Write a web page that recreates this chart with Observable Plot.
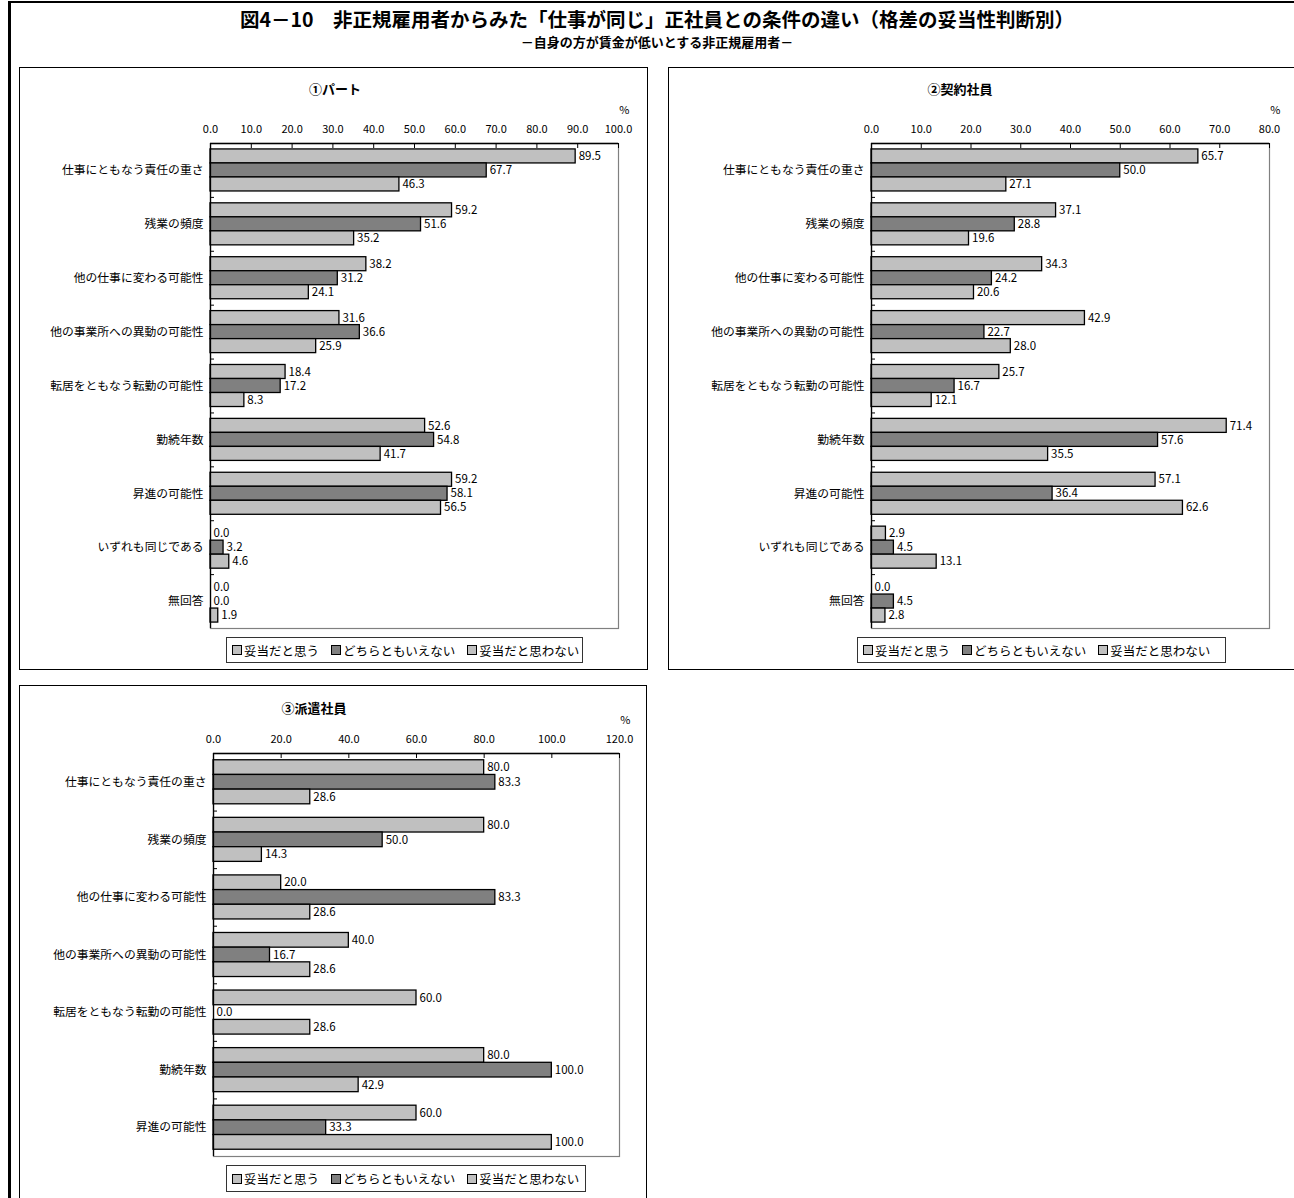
<!DOCTYPE html>
<html>
<head>
<meta charset="utf-8">
<script src="https://cdn.jsdelivr.net/npm/d3@7"></script>
<script src="https://cdn.jsdelivr.net/npm/@observablehq/plot@0.6"></script>
<style>
  body { margin: 0; background: #fff; font-family: "Noto Sans CJK JP", "Noto Sans", sans-serif; color: #000; }
  #page { position: relative; width: 1294px; height: 1198px; overflow: hidden; background: #fff; }
  .outer { position: absolute; left: 8px; top: 1px; width: 1400px; height: 1400px; border-left: 3px solid #000; border-top: 2px solid #000; box-sizing: border-box; }
  .panel { position: absolute; border: 1.5px solid #000; box-sizing: border-box; background: #fff; }
  .title { position: absolute; left: 0; width: 1314px; text-align: center; font-weight: bold; white-space: nowrap; }
  .ptitle { position: absolute; font-weight: bold; font-size: 13px; white-space: nowrap; transform: translate(-50%, -50%); }
  .legend { position: absolute; border: 1px solid #333; box-sizing: border-box; display: flex; align-items: center; padding-left: 5px; gap: 12px; font-size: 12.5px; white-space: nowrap; background: #fff; }
  .legend .item { display: flex; align-items: center; }
  .legend .sw { display: inline-block; width: 8px; height: 8px; border: 1px solid #000; margin-right: 2px; }
  .chart { position: absolute; }
</style>
</head>
<body>
<div id="page">
  <div class="outer"></div>
  <div class="title" style="top:6px;font-size:19.5px;line-height:26px;">図4－10　非正規雇用者からみた「仕事が同じ」正社員との条件の違い（格差の妥当性判断別）</div>
  <div class="title" style="top:33px;font-size:13px;line-height:18px;">－自身の方が賃金が低いとする非正規雇用者－</div>

  <div class="panel" style="left:19px;top:67px;width:629px;height:603px;"></div>
  <div class="panel" style="left:668px;top:67px;width:700px;height:603px;"></div>
  <div class="panel" style="left:19px;top:685px;width:628px;height:530px;"></div>

  <div class="ptitle" style="left:335px;top:88px;">①パート</div>
  <div class="ptitle" style="left:960px;top:88px;">②契約社員</div>
  <div class="ptitle" style="left:314px;top:707px;">③派遣社員</div>

  <div id="c1" class="chart" style="left:20px;top:68px;"></div>
  <div id="c2" class="chart" style="left:669px;top:68px;"></div>
  <div id="c3" class="chart" style="left:20px;top:686px;"></div>

  <div id="l1" class="legend" style="left:226px;top:637px;width:357px;height:26px;"></div>
  <div id="l2" class="legend" style="left:857px;top:637px;width:369px;height:26px;"></div>
  <div id="l3" class="legend" style="left:226px;top:1165px;width:360px;height:27px;"></div>
</div>
<script>
// ---- data ----
const series = ["妥当だと思う", "どちらともいえない", "妥当だと思わない"];
const seriesColors = ["#c0c0c0", "#808080", "#c0c0c0"];

const categories9 = [
  "仕事にともなう責任の重さ", "残業の頻度", "他の仕事に変わる可能性",
  "他の事業所への異動の可能性", "転居をともなう転勤の可能性", "勤続年数",
  "昇進の可能性", "いずれも同じである", "無回答"
];
const categories7 = categories9.slice(0, 7);

// ①パート
const partAgree    = [89.5, 59.2, 38.2, 31.6, 18.4, 52.6, 59.2, 0.0, 0.0];
const partNeutral  = [67.7, 51.6, 31.2, 36.6, 17.2, 54.8, 58.1, 3.2, 0.0];
const partDisagree = [46.3, 35.2, 24.1, 25.9, 8.3, 41.7, 56.5, 4.6, 1.9];

// ②契約社員
const contractAgree    = [65.7, 37.1, 34.3, 42.9, 25.7, 71.4, 57.1, 2.9, 0.0];
const contractNeutral  = [50.0, 28.8, 24.2, 22.7, 16.7, 57.6, 36.4, 4.5, 4.5];
const contractDisagree = [27.1, 19.6, 20.6, 28.0, 12.1, 35.5, 62.6, 13.1, 2.8];

// ③派遣社員
const dispatchAgree    = [80.0, 80.0, 20.0, 40.0, 60.0, 80.0, 60.0];
const dispatchNeutral  = [83.3, 50.0, 83.3, 16.7, 0.0, 100.0, 33.3];
const dispatchDisagree = [28.6, 14.3, 28.6, 28.6, 28.6, 42.9, 100.0];

const ticksPart = [0, 10, 20, 30, 40, 50, 60, 70, 80, 90, 100];
const ticksContract = [0, 10, 20, 30, 40, 50, 60, 70, 80];
const ticksDispatch = [0, 20, 40, 60, 80, 100, 120];

// ---- chart builder ----
function chart({cats, vals, ticks, width, height, ml, mr, mt, mb, barFrac}) {
  const innerH = height - mt - mb;
  const innerW = width - ml - mr;
  const step = innerH / cats.length;
  const h = step * barFrac;
  const m = (step - 3 * h) / 2;
  const rows = [];
  cats.forEach((c, i) => series.forEach((s, k) => rows.push({cat: c, k, series: s, value: vals[k][i]})));
  const xMax = ticks[ticks.length - 1];
  const marks = [
    Plot.frame({stroke: "#808080", strokeWidth: 1.2}),
  ];
  series.forEach((s, k) => {
    const d = rows.filter(r => r.k === k);
    marks.push(Plot.barX(d.filter(r => r.value > 0), {
      x: "value", y: "cat", fill: seriesColors[k], stroke: "#000", strokeWidth: 1.3,
      insetTop: m + k * h, insetBottom: step - m - (k + 1) * h
    }));
    marks.push(Plot.text(d, {
      x: "value", y: "cat", text: r => r.value.toFixed(1), dx: 3,
      dy: m + (k + 0.5) * h - step / 2, textAnchor: "start", fontSize: 11.5, fill: "#000"
    }));
  });
  marks.push(
    Plot.ruleX([0], {stroke: "#000", strokeWidth: 1.3}),
    Plot.ruleY([cats[0]], {dy: -step / 2, stroke: "#000", strokeWidth: 1.3}),
    Plot.ruleX(ticks, {x: d => d, insetBottom: innerH - 5, stroke: "#000"}),
    Plot.ruleY(cats.slice(1), {y: d => d, dy: -step / 2, insetRight: innerW - 4, stroke: "#000"}),
    Plot.axisX(ticks, {anchor: "top", tickSize: 0, tickPadding: 11, tickFormat: d => d.toFixed(1), label: null, fontSize: 11}),
    Plot.axisY({tickSize: 0, tickPadding: 7, label: null, fontSize: 11.8}),
    Plot.text(["%"], {frameAnchor: "top-right", text: d => d, dx: 11, dy: -33, textAnchor: "end", lineAnchor: "middle", fontSize: 11})
  );
  return Plot.plot({
    width, height,
    marginLeft: ml, marginRight: mr, marginTop: mt, marginBottom: mb,
    x: {domain: [0, xMax]},
    y: {domain: cats, padding: 0, round: false},
    style: {fontFamily: "'Noto Sans CJK JP', sans-serif", fontSize: "11px", color: "#000", background: "transparent", overflow: "visible"},
    marks
  });
}

document.getElementById("c1").appendChild(chart({
  cats: categories9, vals: [partAgree, partNeutral, partDisagree], ticks: ticksPart,
  width: 627, height: 565, ml: 190, mr: 29, mt: 75, mb: 5, barFrac: 0.26
}));
document.getElementById("c2").appendChild(chart({
  cats: categories9, vals: [contractAgree, contractNeutral, contractDisagree], ticks: ticksContract,
  width: 625, height: 565, ml: 202, mr: 25, mt: 75, mb: 5, barFrac: 0.26
}));
document.getElementById("c3").appendChild(chart({
  cats: categories7, vals: [dispatchAgree, dispatchNeutral, dispatchDisagree], ticks: ticksDispatch,
  width: 626, height: 475, ml: 193, mr: 27, mt: 67, mb: 5, barFrac: 0.255
}));

// legends
for (const id of ["l1", "l2", "l3"]) {
  const el = document.getElementById(id);
  series.forEach((s, k) => {
    const item = document.createElement("span");
    item.className = "item";
    const sw = document.createElement("span");
    sw.className = "sw";
    sw.style.background = seriesColors[k];
    item.appendChild(sw);
    item.appendChild(document.createTextNode(s));
    el.appendChild(item);
  });
}
</script>
</body>
</html>
